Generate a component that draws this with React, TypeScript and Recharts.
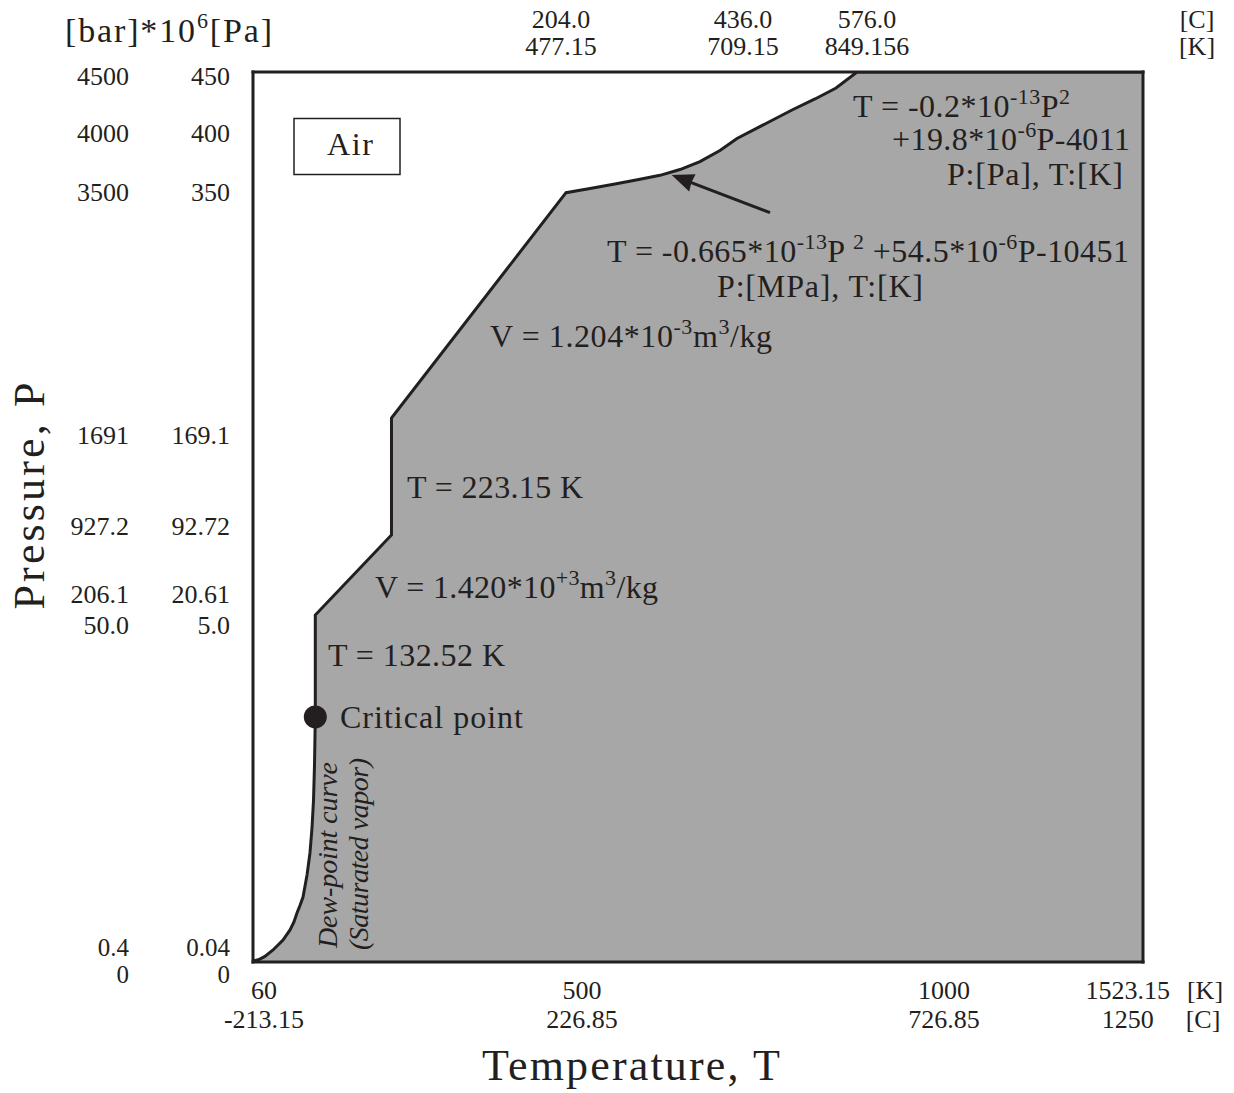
import React from "react";
import { ComposedChart, Area, Scatter, XAxis, YAxis } from "recharts";

const INK = "#231f20";
const GRAY = "#a7a7a7";
const FONT = "'Liberation Serif', 'Times New Roman', serif";

// The source figure is a schematic (not to scale): both axes are in schematic units 0..100.
const boundaryU = [0.06, 0.6, 1.3, 2.25, 3.37, 4.16, 4.6, 4.94, 5.3, 5.62, 6.07, 6.4, 6.63, 6.8, 6.91, 7.0, 7.0, 15.56, 15.56, 35.17, 37.87, 40.67, 43.48, 45.73, 47.98, 50.22, 52.47, 54.38, 57.53, 60.56, 63.15, 65.51, 67.87, 100];
const boundaryV = [0.11, 0.25, 0.6, 1.35, 2.47, 3.6, 4.5, 5.51, 6.4, 7.3, 9.78, 12.25, 15.06, 18.2, 22.13, 27.53, 38.99, 47.98, 61.12, 86.44, 86.91, 87.42, 87.94, 88.39, 89.04, 89.94, 91.18, 92.53, 94.16, 95.73, 96.97, 98.2, 100, 100];
const boundary = boundaryU.map((u, i) => ({ u, v: boundaryV[i] }));

const criticalU = [7.0];
const criticalV = [27.53];
const critical = criticalU.map((u, i) => ({ u, v: criticalV[i] }));

const xBottomTicks = [1.24, 36.97, 77.64, 98.3];
const xBottomK = ["60", "500", "1000", "1523.15"];
const xBottomC = ["-213.15", "226.85", "726.85", "1250"];

const xTopTicks = [34.6, 55.06, 69.0];
const xTopC = ["204.0", "436.0", "576.0"];
const xTopK = ["477.15", "709.15", "849.156"];

const yTicks = [0, 1.69, 37.87, 41.35, 48.99, 59.21, 86.46, 93.15, 99.49];
const yBar = ["0", "0.4", "50.0", "206.1", "927.2", "1691", "3500", "4000", "4500"];
const yMPa = ["0", "0.04", "5.0", "20.61", "92.72", "169.1", "350", "400", "450"];

const txt = { fontFamily: FONT, fill: INK };

const BottomTick = (props: any) => {
  const { x, payload } = props;
  const i = xBottomTicks.indexOf(payload.value);
  if (i < 0) return null;
  return (
    <g>
      <text x={x} y={999} textAnchor="middle" fontSize={26} {...txt}>{xBottomK[i]}</text>
      <text x={x} y={1028} textAnchor="middle" fontSize={26} {...txt}>{xBottomC[i]}</text>
    </g>
  );
};

const TopTick = (props: any) => {
  const { x, payload } = props;
  const i = xTopTicks.indexOf(payload.value);
  if (i < 0) return null;
  return (
    <g>
      <text x={x} y={28} textAnchor="middle" fontSize={26} {...txt}>{xTopC[i]}</text>
      <text x={x} y={55} textAnchor="middle" fontSize={26} {...txt}>{xTopK[i]}</text>
    </g>
  );
};

const LeftTick = (props: any) => {
  const { y, payload } = props;
  const i = yTicks.indexOf(payload.value);
  if (i < 0) return null;
  const isZero = payload.value === 0;
  const base = y + 8.6 + (isZero ? 12 : 0);
  const fs = isZero || payload.value === yTicks[1] ? 25 : 26;
  return (
    <g>
      <text x={129} y={base} textAnchor="end" fontSize={fs} {...txt}>{yBar[i]}</text>
      <text x={230} y={base} textAnchor="end" fontSize={fs} {...txt}>{yMPa[i]}</text>
    </g>
  );
};

const Dot = (props: any) => <circle cx={props.cx} cy={props.cy} r={11.5} fill={INK} />;

const frame = { stroke: INK, strokeWidth: 3, strokeLinecap: "square" as const };

const FS = 32;
const SUP = 22;
const UP = -13;

export default function App() {
  return (
    <div style={{ position: "absolute", left: 0, top: 0, width: 1234, height: 1093, background: "#fff" }}>
      <ComposedChart
        width={1234}
        height={1093}
        data={boundary}
        margin={{ top: 71, right: 90, bottom: 130, left: 252 }}
      >
        <Area
          xAxisId="b"
          yAxisId="l"
          type="linear"
          dataKey="v"
          stroke={INK}
          strokeWidth={3}
          fill={GRAY}
          fillOpacity={1}
          dot={false}
          activeDot={false}
          isAnimationActive={false}
        />
        <Scatter xAxisId="b" yAxisId="l" data={critical} dataKey="v" shape={<Dot />} isAnimationActive={false} />
        <XAxis
          xAxisId="b"
          type="number"
          dataKey="u"
          domain={[0, 100]}
          allowDataOverflow
          ticks={xBottomTicks}
          interval={0}
          tick={<BottomTick />}
          tickLine={false}
          axisLine={frame}
          height={1}
        />
        <XAxis
          xAxisId="t"
          orientation="top"
          type="number"
          dataKey="u"
          domain={[0, 100]}
          allowDataOverflow
          ticks={xTopTicks}
          interval={0}
          tick={<TopTick />}
          tickLine={false}
          axisLine={frame}
          height={1}
        />
        <YAxis
          yAxisId="l"
          type="number"
          domain={[0, 100]}
          allowDataOverflow
          ticks={yTicks}
          interval={0}
          tick={<LeftTick />}
          tickLine={false}
          axisLine={frame}
          width={1}
        />
        <YAxis
          yAxisId="r"
          orientation="right"
          type="number"
          domain={[0, 100]}
          allowDataOverflow
          tick={false}
          tickLine={false}
          axisLine={frame}
          width={1}
        />
      </ComposedChart>

      <svg
        width={1234}
        height={1093}
        style={{ position: "absolute", left: 0, top: 0, pointerEvents: "none" }}
      >
        {/* header units */}
        <text x={65} y={42} fontSize={34} textLength={207} lengthAdjust="spacing" {...txt}>
          [bar]*10<tspan dy={-14} fontSize={22}>6</tspan><tspan dy={14}>[Pa]</tspan>
        </text>
        <text x={1197} y={28} textAnchor="middle" fontSize={26} {...txt}>[C]</text>
        <text x={1197} y={55} textAnchor="middle" fontSize={26} {...txt}>[K]</text>
        <text x={1205} y={999} textAnchor="middle" fontSize={26} {...txt}>[K]</text>
        <text x={1203} y={1028} textAnchor="middle" fontSize={26} {...txt}>[C]</text>

        {/* axis titles */}
        <text x={631} y={1080} textAnchor="middle" fontSize={44} textLength={298} lengthAdjust="spacing" {...txt}>
          Temperature, T
        </text>
        <text
          x={44}
          y={496}
          textAnchor="middle"
          fontSize={44}
          textLength={227}
          lengthAdjust="spacing"
          transform="rotate(-90 44 496)"
          {...txt}
        >
          Pressure, P
        </text>

        {/* Air box */}
        <rect x={294} y={118.5} width={106} height={56} fill="#fff" stroke={INK} strokeWidth={1.5} />
        <text x={327} y={155} fontSize={32} textLength={46} lengthAdjust="spacing" {...txt}>Air</text>

        {/* upper equation */}
        <text x={853} y={117} fontSize={FS} textLength={217} lengthAdjust="spacing" {...txt}>
          T = -0.2*10<tspan dy={UP} fontSize={SUP}>-13</tspan><tspan dy={-UP}>P</tspan>
          <tspan dy={UP} fontSize={SUP}>2</tspan>
        </text>
        <text x={892} y={150} fontSize={FS} textLength={238} lengthAdjust="spacing" {...txt}>
          +19.8*10<tspan dy={UP} fontSize={SUP}>-6</tspan><tspan dy={-UP}>P-4011</tspan>
        </text>
        <text x={947} y={185} fontSize={FS} textLength={176} lengthAdjust="spacing" {...txt}>
          P:[Pa], T:[K]
        </text>

        {/* arrow */}
        <line x1={770} y1={212.7} x2={688} y2={181.3} stroke={INK} strokeWidth={3} />
        <polygon points="671.7,175 695.6,174.3 691.5,182.2 689.2,191.4" fill={INK} />

        {/* lower equation */}
        <text x={607} y={262} fontSize={FS} textLength={522} lengthAdjust="spacing" {...txt}>
          T = -0.665*10<tspan dy={UP} fontSize={SUP}>-13</tspan><tspan dy={-UP}>P </tspan>
          <tspan dy={UP} fontSize={SUP}>2</tspan><tspan dy={-UP}> +54.5*10</tspan>
          <tspan dy={UP} fontSize={SUP}>-6</tspan><tspan dy={-UP}>P-10451</tspan>
        </text>
        <text x={717} y={297} fontSize={FS} textLength={206} lengthAdjust="spacing" {...txt}>
          P:[MPa], T:[K]
        </text>

        <text x={490} y={347} fontSize={FS} textLength={282} lengthAdjust="spacing" {...txt}>
          V = 1.204*10<tspan dy={UP} fontSize={SUP}>-3</tspan><tspan dy={-UP}>m</tspan>
          <tspan dy={UP} fontSize={SUP}>3</tspan><tspan dy={-UP}>/kg</tspan>
        </text>
        <text x={407} y={498} fontSize={FS} textLength={176} lengthAdjust="spacing" {...txt}>
          T = 223.15 K
        </text>
        <text x={375} y={598} fontSize={FS} textLength={283} lengthAdjust="spacing" {...txt}>
          V = 1.420*10<tspan dy={UP} fontSize={SUP}>+3</tspan><tspan dy={-UP}>m</tspan>
          <tspan dy={UP} fontSize={SUP}>3</tspan><tspan dy={-UP}>/kg</tspan>
        </text>
        <text x={328} y={666} fontSize={FS} textLength={177} lengthAdjust="spacing" {...txt}>
          T = 132.52 K
        </text>
        <text x={340} y={728} fontSize={FS} textLength={183} lengthAdjust="spacing" {...txt}>
          Critical point
        </text>

        {/* dew-point labels */}
        <text
          x={337}
          y={855}
          textAnchor="middle"
          fontSize={28}
          fontStyle="italic"
          textLength={186}
          lengthAdjust="spacing"
          transform="rotate(-90 337 855)"
          {...txt}
        >
          Dew-point curve
        </text>
        <text
          x={368}
          y={854}
          textAnchor="middle"
          fontSize={28}
          fontStyle="italic"
          textLength={192}
          lengthAdjust="spacing"
          transform="rotate(-90 368 854)"
          {...txt}
        >
          (Saturated vapor)
        </text>
      </svg>
    </div>
  );
}
